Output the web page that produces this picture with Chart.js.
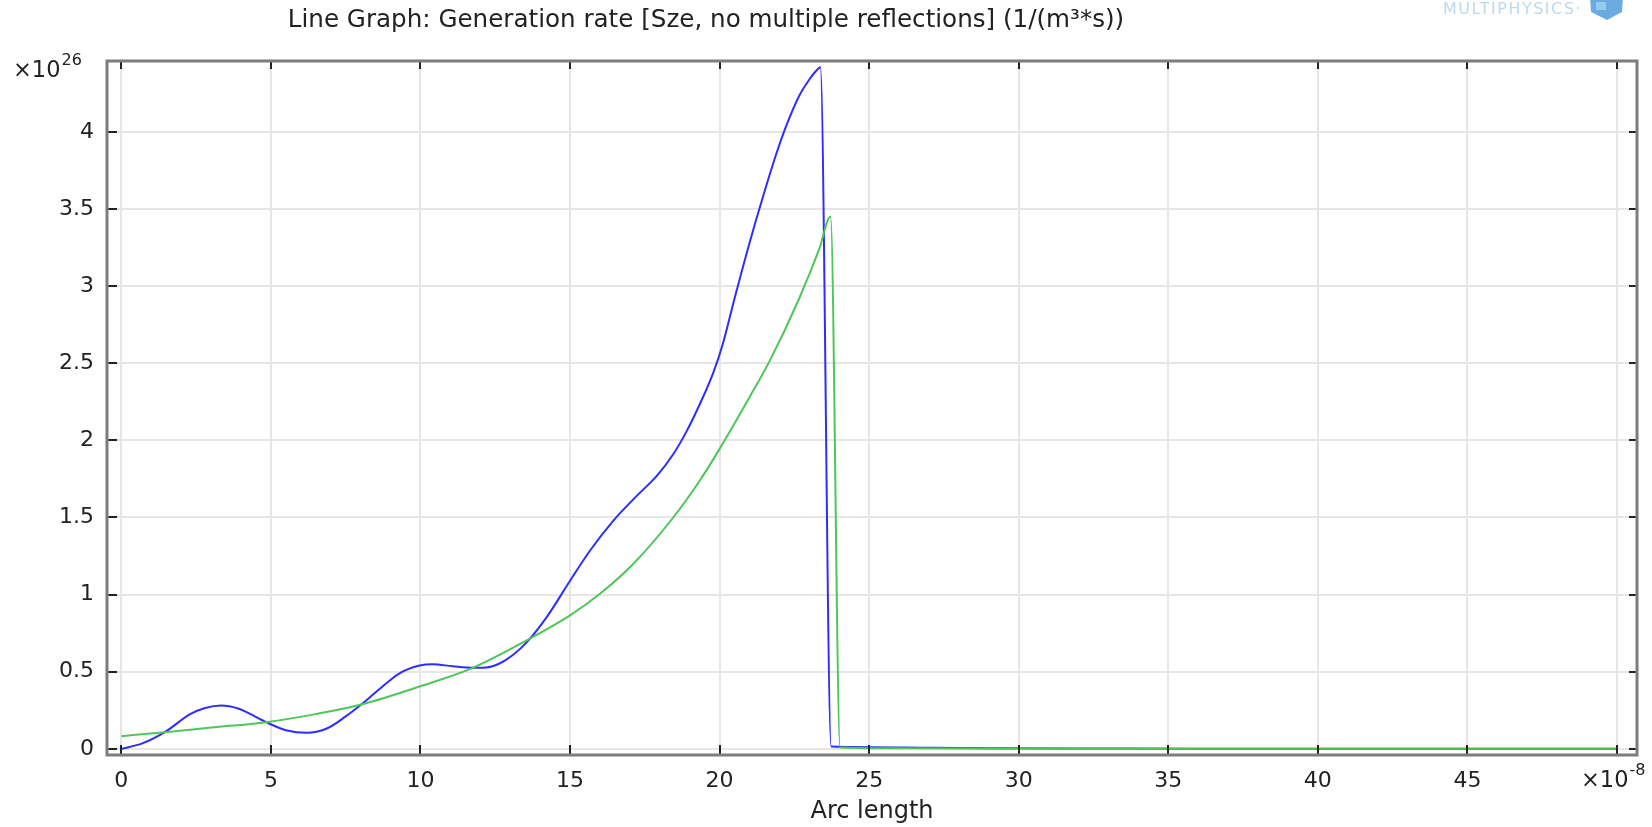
<!DOCTYPE html>
<html>
<head>
<meta charset="utf-8">
<title>Generation rate</title>
<script src="https://cdn.jsdelivr.net/npm/chart.js@4.4.1/dist/chart.umd.min.js"></script>
<style>
  html, body { margin: 0; padding: 0; background: #fff; }
  #wrap { position: relative; width: 1652px; height: 827px; }
</style>
</head>
<body>
<div id="wrap"><canvas id="genChart" width="1652" height="827"></canvas></div>
<script>
// arc length in units of 1e-8 m, generation rate in units of 1e26 1/(m^3*s)
const arcBlue = [0, 0.7, 1.45, 2.3, 2.8, 3.34, 3.9, 4.2, 4.84, 5.5, 6.2, 6.85, 7.5, 8.02, 8.74, 9.3, 9.97, 10.41, 11.08, 11.75,
    12.19, 12.66, 13.1, 13.55, 14.22, 15.0, 15.67, 16.45, 17.23, 17.9, 18.45, 18.9, 19.34, 19.79, 20.1, 20.5, 21.0, 21.45, 21.9, 22.25,
    22.65, 23.0, 23.2, 23.37, 23.73, 25, 27, 29, 32, 36, 40, 50];
const genBlue = [0, 0.035, 0.108, 0.225, 0.265, 0.281, 0.262, 0.236, 0.173, 0.121, 0.104, 0.13, 0.21, 0.287, 0.406, 0.49, 0.54, 0.549, 0.535, 0.525,
    0.527, 0.555, 0.61, 0.69, 0.854, 1.09, 1.286, 1.48, 1.64, 1.77, 1.91, 2.06, 2.236, 2.44, 2.62, 2.92, 3.28, 3.58, 3.86, 4.05,
    4.23, 4.34, 4.39, 4.42, 0.015, 0.011, 0.007, 0.004, 0.002, 0.001, 0.0005, 0];

const arcGreen = [0, 1.45, 3.0, 4.84, 6.5, 8.02, 10.0, 11.75, 13.55, 15.0, 16.0, 17.12, 18.45, 19.34, 20.0, 21.0, 21.68, 22.66, 23.33, 23.71,
    24.03, 26, 30, 50];
const genGreen = [0.082, 0.108, 0.138, 0.173, 0.225, 0.287, 0.406, 0.525, 0.703, 0.865, 1.005, 1.2, 1.5, 1.74, 1.945, 2.28, 2.517, 2.92, 3.24, 3.45,
    0.008, 0.003, 0.001, 0];

const xTickValues = [0, 5, 10, 15, 20, 25, 30, 35, 40, 45, 50];
const yTickValues = [0, 0.5, 1, 1.5, 2, 2.5, 3, 3.5, 4];
const xRange = [-0.48, 50.67];
const yRange = [-0.04, 4.46];

const chartTitle = 'Line Graph: Generation rate [Sze, no multiple reflections] (1/(m\u00b3*s))';
const xTitle = 'Arc length';
const xExponent = '-8';
const yExponent = '26';
const logoText = 'MULTIPHYSICS';

Chart.defaults.font.family = "'DejaVu Sans', sans-serif";
Chart.defaults.color = '#222';

function toPoints(xs, ys) {
    return xs.map((x, i) => ({ x: x, y: ys[i] }));
}

function drawPower(ctx, x, y, exp) {
    ctx.font = "22.5px 'DejaVu Sans'";
    ctx.textAlign = 'left';
    ctx.textBaseline = 'middle';
    ctx.fillText('\u00d710', x, y);
    const w = ctx.measureText('\u00d710').width;
    ctx.font = "16px 'DejaVu Sans'";
    ctx.fillText(exp, x + w + 1, y - 10);
}

// frame, inward ticks, title, exponents and logo, COMSOL style
const comsolDecor = {
    id: 'comsolDecor',
    afterDraw(chart) {
        const ctx = chart.ctx;
        const a = chart.chartArea;
        const sx = chart.scales.x;
        const sy = chart.scales.y;
        ctx.save();

        ctx.strokeStyle = '#222';
        ctx.lineWidth = 2;
        ctx.beginPath();
        xTickValues.forEach(v => {
            const px = Math.round(sx.getPixelForValue(v));
            ctx.moveTo(px, a.bottom); ctx.lineTo(px, a.bottom - 10);
            ctx.moveTo(px, a.top); ctx.lineTo(px, a.top + 8);
        });
        yTickValues.forEach(v => {
            const py = Math.round(sy.getPixelForValue(v));
            ctx.moveTo(a.left, py); ctx.lineTo(a.left + 10, py);
            ctx.moveTo(a.right, py); ctx.lineTo(a.right - 8, py);
        });
        ctx.stroke();

        ctx.strokeStyle = '#7d7d7d';
        ctx.lineWidth = 3;
        ctx.strokeRect(a.left, a.top, a.right - a.left, a.bottom - a.top);

        ctx.fillStyle = '#222';
        ctx.font = "24.6px 'DejaVu Sans'";
        ctx.textAlign = 'center';
        ctx.textBaseline = 'middle';
        ctx.fillText(chartTitle, 706, 21);

        drawPower(ctx, 13, 71, yExponent);
        drawPower(ctx, 1581, 781, xExponent);

        // logo, cut by the top edge
        ctx.fillStyle = 'rgba(120,180,225,0.5)';
        ctx.font = "16px 'DejaVu Sans'";
        ctx.letterSpacing = '1.5px';
        ctx.textAlign = 'right';
        ctx.textBaseline = 'alphabetic';
        ctx.fillText(logoText + '\u00b7', 1582, 14);
        ctx.letterSpacing = '0px';
        ctx.fillStyle = 'rgba(70,150,215,0.8)';
        ctx.beginPath();
        ctx.moveTo(1590, -4); ctx.lineTo(1606, -10); ctx.lineTo(1623, -4);
        ctx.lineTo(1622, 12); ctx.lineTo(1607, 20); ctx.lineTo(1591, 12);
        ctx.closePath();
        ctx.fill();
        ctx.fillStyle = 'rgba(170,215,245,0.7)';
        ctx.fillRect(1596, 2, 10, 8);

        ctx.restore();
    }
};

document.addEventListener("DOMContentLoaded", function() {
    new Chart(document.getElementById("genChart"), {
        type: 'line',
        data: {
            datasets: [{
                label: 'Generation rate',
                data: toPoints(arcBlue, genBlue),
                borderColor: 'rgb(45,45,255)',
                borderWidth: 2,
                pointRadius: 0,
                fill: false,
                cubicInterpolationMode: 'monotone',
                order: 1
            }, {
                label: 'Generation rate (exponential)',
                data: toPoints(arcGreen, genGreen),
                borderColor: 'rgb(78,198,88)',
                borderWidth: 2,
                pointRadius: 0,
                fill: false,
                cubicInterpolationMode: 'monotone',
                order: 0
            }]
        },
        options: {
            responsive: false,
            animation: false,
            devicePixelRatio: 1,
            layout: { padding: { top: 61, right: 15, left: 0, bottom: 0 } },
            plugins: {
                legend: { display: false },
                tooltip: { enabled: false },
                title: { display: false }
            },
            scales: {
                x: {
                    type: 'linear',
                    min: xRange[0],
                    max: xRange[1],
                    afterFit: s => { s.height = 72; },
                    afterBuildTicks: s => { s.ticks = xTickValues.map(v => ({ value: v })); },
                    grid: { color: '#e6e6e6', lineWidth: 2, drawTicks: false },
                    border: { display: false },
                    ticks: {
                        padding: 13,
                        maxRotation: 0,
                        font: { size: 22 },
                        callback: v => v === 50 ? '' : String(v)
                    },
                    title: {
                        display: true,
                        text: xTitle,
                        font: { size: 24, lineHeight: 1.2 },
                        padding: { top: 0, bottom: 1 }
                    }
                },
                y: {
                    type: 'linear',
                    min: yRange[0],
                    max: yRange[1],
                    afterFit: s => { s.width = 107; },
                    afterBuildTicks: s => { s.ticks = yTickValues.map(v => ({ value: v })); },
                    grid: { color: '#e6e6e6', lineWidth: 2, drawTicks: false },
                    border: { display: false },
                    ticks: {
                        padding: 13,
                        font: { size: 22 },
                        callback: v => String(v)
                    }
                }
            }
        },
        plugins: [comsolDecor]
    });
});
</script>
</body>
</html>
